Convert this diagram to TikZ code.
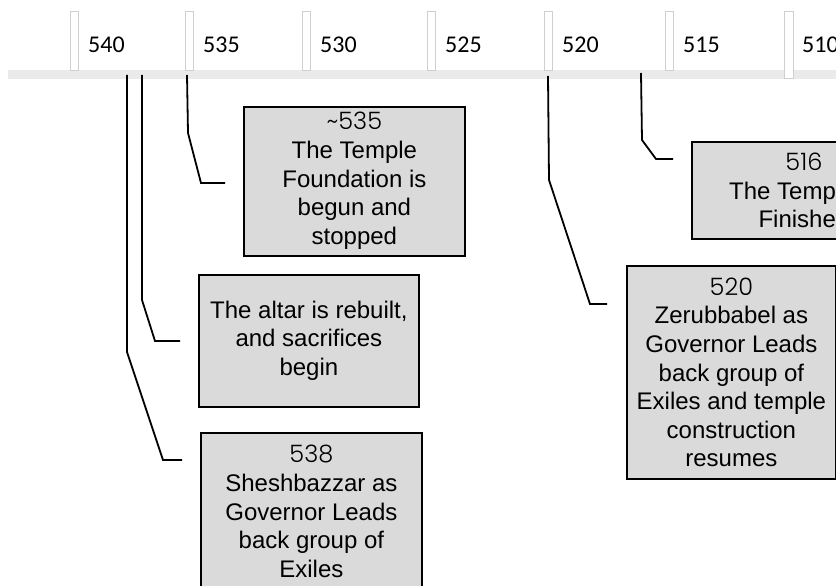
\documentclass[tikz,border=0pt]{standalone}
\usepackage{fontspec}
\setmainfont{Liberation Sans}
\newfontfamily\tickfont{Carlito}
\newfontfamily\yearfont{Poppins}[UprightFont=* Light]
\definecolor{bargray}{HTML}{EAEAEA}
\definecolor{tickgray}{HTML}{CFCFCF}
\definecolor{boxgray}{HTML}{DADADA}
\begin{document}
\begin{tikzpicture}[x=1pt,y=-1pt,
  tickbox/.style={draw=tickgray, line width=0.8pt, fill=white},
  ticklabel/.style={anchor=base west, inner sep=0, font=\tickfont\fontsize{24}{28}\selectfont},
  evbox/.style={draw=black, line width=1.8pt, fill=boxgray, align=center, inner sep=0,
    font=\fontsize{24}{28.6}\selectfont},
  conn/.style={draw=black, line width=1.8pt}]
\useasboundingbox (0,0) rectangle (836,586);
\clip (0,0) rectangle (836,586);
% timeline bar
\fill[bargray] (8,70) rectangle (840,79);
% ticks and labels
\foreach \tx/\lab in {70/540,185/535,302/530,427/525,544/520,665/515}{
  \draw[tickbox] (\tx,11) rectangle ++(8.5,59);
  \node[ticklabel] at (\tx+18,53) {\lab};
}
\draw[tickbox] (784,11) rectangle (793,78);
\node[ticklabel] (l510) at (802,53) {510};
% boxes
\node[evbox, anchor=north west, minimum width=221, minimum height=149] (b535) at (243,106)
  {\raisebox{-6pt}{\begin{tabular}{@{}c@{}}{\yearfont\textasciitilde535}\\The Temple\\Foundation is\\begun and\\stopped\end{tabular}}};
\node[evbox, anchor=north west, minimum width=220, minimum height=132] (balt) at (198,274)
  {\raisebox{-6pt}{\begin{tabular}{@{}c@{}}The altar is rebuilt,\\and sacrifices\\begin\end{tabular}}};
\node[evbox, anchor=north west, minimum width=221, minimum height=157] (b538) at (200,432)
  {{\yearfont 538}\\Sheshbazzar as\\Governor Leads\\back group of\\Exiles};
\node[evbox, anchor=north west, minimum width=209, minimum height=213] (b520) at (626,265)
  {{\yearfont 520}\\Zerubbabel as\\Governor Leads\\back group of\\Exiles and temple\\construction\\resumes};
\node[evbox, anchor=north west, minimum width=224, minimum height=97] (b516) at (691,141)
  {{\yearfont 516}\\The Temple is\\Finished};
% connector coordinates
\coordinate (s538) at (127,75);
\coordinate (e538) at (182,460);
\coordinate (salt) at (142,75);
\coordinate (ealt) at (180,341);
\coordinate (s535) at (187,75);
\coordinate (e535) at (225,183);
\coordinate (s520) at (548,76);
\coordinate (e520) at (607,304);
\coordinate (s516) at (641,73);
\coordinate (e516) at (673,159);
% connectors
\draw[conn] (s538) -- (127,352) -- (163,460) -- (e538);
\draw[conn] (salt) -- (142,300) -- (155,341) -- (ealt);
\draw[conn] (s535) -- (188,133) -- (201,183) -- (e535);
\draw[conn] (s520) -- (549,180) -- (590,304) -- (e520);
\draw[conn] (s516) -- (642,140) -- (656,159) -- (e516);
\end{tikzpicture}
\end{document}
